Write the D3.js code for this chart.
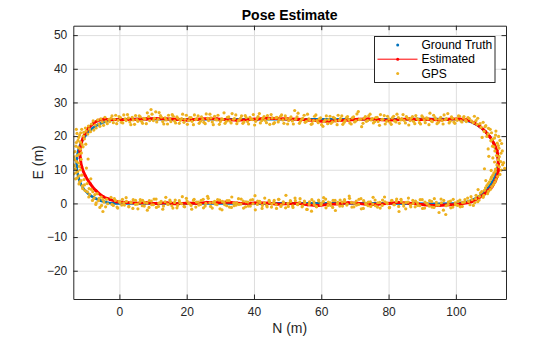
<!DOCTYPE html>
<html><head><meta charset="utf-8">
<script src="https://cdn.jsdelivr.net/npm/d3@7"></script>
<style>
body{margin:0;background:#fff;}
svg{display:block;font-family:"Liberation Sans",Arial,Helvetica,sans-serif;}
</style></head>
<body>
<svg id="chart" width="560" height="337"></svg>
<script>
// ---- data (N = x, E = y, metres) ----
const xTicks = [0, 20, 40, 60, 80, 100];
const yTicks = [-20, -10, 0, 10, 20, 30, 40, 50];
const legendLabels = ["Ground Truth", "Estimated", "GPS"];

// ground-truth track waypoints
const gtN = [0, 20, 40, 60, 80, 100, 103.2, 106.3, 108.8, 110.8, 112.1, 112.6, 112.1, 110.8, 108.8, 106.3, 103.2, 100,
             80, 60, 40, 20, 0, -3.3, -6.4, -9.0, -11.0, -12.2, -12.7, -12.5, -11.3, -9.4, -7.4, -3.7, 0];
const gtE = [0, 0, 0, 0, 0, 0, 0.4, 1.7, 3.7, 6.3, 9.3, 12.5, 15.7, 18.8, 21.3, 23.3, 24.6, 25,
             25, 25, 25, 25, 25, 24.6, 23.4, 21.4, 18.8, 15.8, 12.5, 9.2, 5.4, 3.0, 1.6, 0.3, 0];

// estimated trajectory
const estN = [-0.8, 2, 5, 8, 11, 14, 17, 20, 23, 26, 29, 32, 35, 38, 41, 44, 47, 50, 53, 56, 59, 62, 65, 68, 71, 74, 77, 80, 83, 86, 89, 92, 95, 98, 101.2,
              104.7, 106.5, 108.2, 109.6, 110.7, 111.6, 112.2, 112.6, 112.6, 112.5, 112.2, 111.3, 110.1, 108.8, 107.2, 105.3, 103.2, 101,
              98, 95, 92, 89, 86, 83, 80, 77, 74, 71, 68, 65, 62, 59, 56, 53, 50, 47, 44, 41, 38, 35, 32, 29, 26, 23, 20, 17, 14, 11, 8, 5, 2, -1, -2.8,
              -4.8, -6.4, -7.7, -9.2, -10.7, -11.3, -11.7, -11.6, -11.2, -10.2, -8.7, -7.0, -4.8, -2.8, -0.8];
const estE = [0.5, 0.3, 0.1, 0.2, 0.0, 0.2, -0.1, 0.1, 0.0, 0.3, 0.2, 0.4, 0.1, 0.0, 0.2, 0.1, -0.2, -0.1, 0.0, -0.4, -0.6, -0.3, -0.1, 0.2, 0.0, -0.3, -0.2, 0.0, 0.3, 0.1, -0.2, -0.5, -0.6, -0.4, -0.2,
              0.5, 1.5, 2.5, 3.9, 4.9, 6.5, 7.9, 9.8, 11.9, 13.8, 15.8, 17.8, 19.8, 21.3, 22.8, 24.0, 24.8, 25.1,
              25.0, 24.8, 25.0, 24.9, 25.1, 24.9, 24.7, 24.9, 25.1, 25.0, 24.8, 24.6, 24.4, 24.5, 24.8, 25.0, 25.1, 25.2, 25.3, 25.1, 24.9, 24.7, 24.9, 25.1, 25.2, 25.0, 24.8, 25.0, 25.1, 25.2, 25.1, 25.0, 24.9, 24.9, 24.9,
              25.0, 24.6, 23.8, 22.3, 19.8, 17.8, 15.8, 13.4, 10.9, 8.3, 5.9, 3.8, 2.0, 1.2, 0.5];

// GPS fixes [N, E]
const gpsBottom = [[-2.5,1.8],[-1.8,-0.6],[-1.2,0.9],[-0.5,-1.4],[0.2,0.3],[0.9,1.2],[1.5,-0.5],[2.1,0.6],[2.8,-1.0],[3.5,0.2],[4.1,1.1],[4.8,-0.3],[5.5,-1.6],[6.1,0.4],[6.9,0.9],[7.4,-0.8],[8.2,0.1],[8.8,-1.2],[9.5,0.7],[10.1,-0.4],[10.9,1.3],[11.6,-0.9],[12.2,0.2],[12.9,-1.7],[13.6,0.5],[14.3,-0.2],[15.0,1.0],[15.6,-0.7],[16.4,0.3],[17.1,-1.3],[17.8,0.8],[18.5,-0.1],[19.2,-0.9],[19.9,1.5],[20.6,0.0],[21.3,-0.6],[22.0,0.9],[22.7,-1.1],[23.4,0.4],[24.1,-0.3],[24.9,1.2],[25.5,-0.8],[26.2,2.1],[26.9,0.2],[27.6,-1.4],[28.3,0.6],[29.0,-0.4],[29.8,1.0],[30.5,-1.9],[31.1,0.3],[31.9,-0.7],[32.6,0.8],[33.3,-1.2],[34.0,0.1],[34.7,-0.5],[35.4,1.4],[36.1,-0.2],[36.8,0.7],[37.5,-1.0],[38.2,0.4],[38.9,-0.8],[39.6,1.1],[40.3,2.3],[41.0,-0.3],[41.7,0.6],[42.4,-1.5],[43.1,0.2],[43.8,-0.6],[44.5,0.9],[45.2,-1.1],[45.9,0.3],[46.6,-0.4],[47.3,1.2],[48.0,-0.9],[48.7,0.5],[49.4,-1.3],[50.1,0.0],[50.8,0.8],[51.5,-0.7],[52.2,1.6],[52.9,-0.2],[53.6,0.4],[54.3,-1.0],[55.0,0.7],[55.7,-1.8],[56.4,-0.3],[57.1,-2.3],[57.8,0.5],[58.5,-0.9],[59.2,1.0],[59.9,-0.4],[60.6,0.6],[61.3,1.3],[62.0,-0.6],[62.7,0.2],[63.4,-1.2],[64.1,0.9],[64.8,-0.1],[65.5,-0.8],[66.2,0.4],[66.9,1.1],[67.6,-0.5],[68.3,2.2],[69.0,0.3],[69.7,-1.0],[70.4,0.7],[71.1,-0.3],[71.8,1.4],[72.5,-1.5],[73.2,0.1],[73.9,-0.7],[74.6,0.5],[75.3,-0.2],[76.0,1.0],[76.7,-1.1],[77.4,0.3],[78.1,-0.6],[78.8,1.9],[79.5,0.2],[80.2,-1.3],[80.9,0.8],[81.6,-0.4],[82.3,0.6],[83.0,-0.9],[83.7,1.2],[84.4,-0.1],[85.1,-1.6],[85.8,0.4],[86.5,-0.5],[87.2,0.9],[87.9,-1.0],[88.6,0.2],[89.3,-0.7],[90.0,1.1],[90.7,-1.4],[91.4,0.0],[92.1,-0.8],[92.8,0.6],[93.5,-1.2],[94.2,0.3],[94.9,-0.5],[95.6,1.3],[96.3,-2.0],[97.0,-3.3],[97.7,-0.3],[98.4,0.7],[99.1,-1.1],[99.8,0.2],[100.5,-0.6],[101.2,1.0],[101.9,-0.9],[102.6,0.4]];
const gpsBottom2 = [[-2.2,-0.3],[-1.5,1.4],[-0.7,-1.1],[-0.1,0.6],[0.7,-0.5],[1.3,0.2],[2.0,1.7],[2.8,-0.9],[3.4,0.4],[4.0,-1.5],[4.8,0.9],[5.4,-0.2],[6.2,1.1],[6.8,-0.7],[7.5,0.3],[8.3,-2.0],[8.9,0.8],[9.6,-0.4],[10.3,1.3],[11.0,-1.2],[11.7,0.1],[12.4,0.6],[13.1,-0.8],[13.8,1.8],[14.5,-0.3],[15.2,0.5],[15.9,-1.4],[16.6,1.0],[17.3,-0.6],[18.0,0.2],[18.7,2.0],[19.4,-1.0],[20.1,0.7],[20.8,-0.1],[21.5,-1.7],[22.2,1.2],[22.9,0.4],[23.6,-0.5],[24.3,0.9],[25.0,-1.3],[25.7,0.0],[26.4,1.5],[27.1,-0.9],[27.8,0.3],[28.5,-0.2],[29.2,1.1],[29.9,-1.6],[30.6,0.6],[31.3,-0.4],[32.0,0.8],[32.7,-1.1],[33.4,1.9],[34.1,-0.7],[34.8,0.2],[35.5,-0.3],[36.2,1.3],[36.9,-1.4],[37.6,0.5],[38.3,-0.8],[39.0,1.0],[39.7,-0.1],[40.4,-1.9],[41.1,0.7],[41.8,0.3],[42.5,-0.6],[43.2,1.6],[43.9,-1.0],[44.6,0.4],[45.3,-0.2],[46.0,0.9],[46.7,-1.5],[47.4,1.2],[48.1,-0.5],[48.8,0.1],[49.5,2.4],[50.2,-0.9],[50.9,0.6],[51.6,-1.2],[52.3,0.8],[53.0,-0.4],[53.7,1.4],[54.4,-0.7],[55.1,0.2],[55.8,-1.8],[56.5,0.5],[57.2,1.1],[57.9,-0.3],[58.6,-1.0],[59.3,0.7],[60.0,0.0],[60.7,1.7],[61.4,-1.3],[62.1,0.4],[62.8,-0.6],[63.5,0.9],[64.2,-2.1],[64.9,0.3],[65.6,1.0],[66.3,-0.8],[67.0,0.6],[67.7,-0.2],[68.4,1.5],[69.1,-1.1],[69.8,0.1],[70.5,-0.5],[71.2,1.2],[71.9,-1.6],[72.6,0.8],[73.3,-0.3],[74.0,0.4],[74.7,-0.9],[75.4,1.8],[76.1,-0.7],[76.8,0.2],[77.5,-1.4],[78.2,1.0],[78.9,0.5],[79.6,-0.1],[80.3,-1.2],[81.0,0.9],[81.7,-0.4],[82.4,1.3],[83.1,-2.4],[83.8,0.6],[84.5,-0.8],[85.2,0.3],[85.9,1.6],[86.6,-1.0],[87.3,0.0],[88.0,0.7],[88.7,-0.6],[89.4,1.1],[90.1,-1.5],[90.8,0.4],[91.5,-0.2],[92.2,0.8],[92.9,-1.1],[93.6,1.4],[94.3,-0.5],[95.0,-2.7],[95.7,0.2],[96.4,0.9],[97.1,-0.7],[97.8,0.5],[98.5,-1.3],[99.2,1.2],[99.9,-0.4],[100.6,0.6],[101.3,-1.0],[102.0,0.3],[102.7,1.1]];
const gpsRight = [[103.5,1.6],[104.2,-0.4],[104.8,1.1],[105.6,0.2],[106.0,2.4],[106.9,1.0],[107.3,3.1],[108.1,1.8],[108.5,3.9],[109.4,2.9],[109.2,5.3],[110.3,4.2],[110.0,6.4],[111.2,5.6],[110.6,7.8],[112.0,7.1],[111.3,9.0],[113.1,8.6],[111.8,10.2],[112.9,10.9],[113.9,11.5],[111.5,12.3],[112.6,13.0],[114.2,12.1],[112.1,14.2],[113.4,14.9],[111.6,15.6],[112.8,16.4],[110.9,17.0],[112.3,17.9],[113.6,17.8],[110.4,18.6],[111.5,19.4],[109.2,19.9],[110.6,21.0],[108.4,21.4],[109.7,22.3],[107.5,22.6],[106.3,23.5],[108.1,24.1],[105.2,24.0],[104.0,25.2],[106.5,25.3],[103.1,24.3],[102.4,25.8],[107.8,19.6],[109.8,14.0],[110.5,9.8],[108.9,6.8],[106.6,4.1],[114.5,10.4]];
const gpsRight2 = [[103.8,0.6],[104.5,2.0],[105.2,-0.6],[105.9,1.4],[106.5,0.5],[107.0,2.1],[107.7,3.5],[108.3,2.4],[108.8,4.6],[109.7,3.6],[109.6,5.9],[110.7,5.0],[110.4,7.2],[111.6,6.3],[111.0,8.4],[112.4,8.0],[111.7,9.5],[113.5,9.9],[112.2,11.4],[113.3,12.4],[111.0,13.5],[112.9,13.9],[113.8,15.6],[111.3,16.8],[112.6,17.2],[113.1,18.7],[110.8,19.0],[111.8,20.3],[109.6,20.7],[110.2,22.0],[108.7,22.8],[107.2,23.7],[108.9,23.1],[106.0,24.6],[105.5,25.9],[104.6,24.5],[103.6,25.5],[102.9,24.7],[111.9,21.5],[112.7,19.9],[109.6,16.2],[108.5,10.3]];
const gpsTop = [[101.8,24.2],[101.1,25.9],[100.4,24.7],[99.7,23.8],[99.0,25.3],[98.3,24.4],[97.6,26.7],[96.9,24.9],[96.2,23.6],[95.5,25.6],[94.8,24.1],[94.1,25.0],[93.4,26.2],[92.7,24.5],[92.0,23.4],[91.3,25.4],[90.6,24.8],[89.9,26.0],[89.2,24.0],[88.5,25.2],[87.8,23.7],[87.1,25.8],[86.4,24.6],[85.7,25.3],[85.0,23.9],[84.3,26.4],[83.6,24.8],[82.9,25.5],[82.2,24.2],[81.5,25.9],[80.8,23.5],[80.1,25.1],[79.4,24.4],[78.7,26.1],[78.0,24.9],[77.3,23.2],[76.6,25.6],[75.9,24.3],[75.2,25.2],[74.5,26.5],[73.8,24.6],[73.1,25.8],[72.4,23.8],[71.7,25.0],[71.0,27.3],[70.3,24.5],[69.6,25.7],[68.9,23.6],[68.2,24.9],[67.5,25.5],[66.8,24.1],[66.1,26.0],[65.4,24.7],[64.7,23.4],[64.0,25.3],[63.3,24.2],[62.6,25.9],[61.9,23.7],[61.2,24.8],[60.5,22.9],[59.8,25.4],[59.1,24.0],[58.4,26.3],[57.7,24.6],[57.0,23.5],[56.3,25.1],[55.6,24.4],[54.9,26.2],[54.2,25.0],[53.5,23.8],[52.8,25.7],[52.1,27.6],[51.4,24.5],[50.7,25.3],[50.0,23.6],[49.3,26.0],[48.6,24.8],[47.9,25.9],[47.2,24.2],[46.5,25.4],[45.8,23.7],[45.1,26.4],[44.4,25.1],[43.7,24.0],[43.0,25.8],[42.3,24.6],[41.6,26.7],[40.9,25.2],[40.2,23.3],[39.5,24.9],[38.8,25.6],[38.1,24.3],[37.4,26.1],[36.7,23.8],[36.0,25.3],[35.3,24.5],[34.6,26.3],[33.9,25.0],[33.2,23.9],[32.5,25.7],[31.8,24.4],[31.1,26.9],[30.4,25.1],[29.7,23.5],[29.0,24.8],[28.3,25.9],[27.6,24.2],[26.9,26.5],[26.2,25.3],[25.5,23.7],[24.8,25.0],[24.1,24.4],[23.4,26.0],[22.7,24.9],[22.0,23.4],[21.3,25.5],[20.6,24.6],[19.9,26.2],[19.2,24.1],[18.5,25.2],[17.8,23.8],[17.1,25.7],[16.4,24.5],[15.7,26.4],[15.0,25.1],[14.3,23.6],[13.6,25.4],[12.9,24.3],[12.2,26.1],[11.5,25.0],[10.8,27.2],[10.1,24.6],[9.4,27.9],[8.7,25.8],[8.0,23.7],[7.3,25.3],[6.6,24.4],[5.9,26.0],[5.2,24.9],[4.5,23.5],[3.8,25.6],[3.1,24.2],[2.4,26.4],[1.7,25.1],[1.0,23.9],[0.3,25.5],[-0.4,24.7],[-1.1,26.2],[-1.8,24.0],[-2.5,25.3]];
const gpsTop2 = [[102.3,25.4],[101.5,24.5],[100.8,26.0],[100.1,25.1],[99.4,24.2],[98.7,25.7],[98.0,23.9],[97.2,25.2],[96.5,26.3],[95.9,24.6],[95.1,25.0],[94.4,23.7],[93.8,25.5],[93.0,24.3],[92.3,26.8],[91.7,25.1],[90.9,24.0],[90.2,25.6],[89.5,23.6],[88.8,24.9],[88.1,26.1],[87.4,24.4],[86.7,25.3],[86.0,23.3],[85.3,25.8],[84.6,24.7],[83.9,25.2],[83.2,23.8],[82.5,26.5],[81.8,24.5],[81.1,25.4],[80.4,24.1],[79.7,25.9],[79.0,23.6],[78.3,25.0],[77.6,26.4],[76.9,24.3],[76.2,25.5],[75.5,23.9],[74.8,24.8],[74.1,26.0],[73.4,24.4],[72.7,25.3],[72.0,22.8],[71.3,24.9],[70.6,26.6],[69.9,24.2],[69.2,25.4],[68.5,23.9],[67.8,25.8],[67.1,24.6],[66.4,23.5],[65.7,25.2],[65.0,26.2],[64.3,24.5],[63.6,25.6],[62.9,23.8],[62.2,24.9],[61.5,26.0],[60.8,24.3],[60.1,23.4],[59.4,25.1],[58.7,24.6],[58.0,25.9],[57.3,23.7],[56.6,24.8],[55.9,26.5],[55.2,24.1],[54.5,25.3],[53.8,24.4],[53.1,26.8],[52.4,25.0],[51.7,23.6],[51.0,25.7],[50.3,24.6],[49.6,25.2],[48.9,23.8],[48.2,26.3],[47.5,24.9],[46.8,25.6],[46.1,24.0],[45.4,25.4],[44.7,23.5],[44.0,26.1],[43.3,24.7],[42.6,25.3],[41.9,23.9],[41.2,25.8],[40.5,24.4],[39.8,26.4],[39.1,25.0],[38.4,23.6],[37.7,25.5],[37.0,24.2],[36.3,26.0],[35.6,24.8],[34.9,23.7],[34.2,25.2],[33.5,26.7],[32.8,24.5],[32.1,25.6],[31.4,23.8],[30.7,25.0],[30.0,24.3],[29.3,26.2],[28.6,24.9],[27.9,23.4],[27.2,25.4],[26.5,24.6],[25.8,26.6],[25.1,24.1],[24.4,25.7],[23.7,23.8],[23.0,25.1],[22.3,26.3],[21.6,24.4],[20.9,25.5],[20.2,23.5],[19.5,25.0],[18.8,26.5],[18.1,24.7],[17.4,25.3],[16.7,23.9],[16.0,25.9],[15.3,24.3],[14.6,26.2],[13.9,24.8],[13.2,23.6],[12.5,25.6],[11.8,27.0],[11.1,24.2],[10.4,25.3],[9.7,26.5],[9.0,24.6],[8.3,26.9],[7.6,25.1],[6.9,23.8],[6.2,25.7],[5.5,24.4],[4.8,26.1],[4.1,24.8],[3.4,23.4],[2.7,25.4],[2.0,24.6],[1.3,26.3],[0.6,24.1],[-0.1,25.8],[-0.8,23.7],[-1.5,25.0],[-2.2,26.0],[-2.9,24.3]];
const gpsLeft = [[-3.6,23.7],[-4.3,25.6],[-5.1,24.2],[-5.8,22.9],[-6.4,24.8],[-7.2,23.3],[-7.6,21.8],[-8.3,23.6],[-8.9,22.1],[-9.4,20.6],[-10.1,22.4],[-10.6,21.1],[-11.2,22.0],[-11.8,20.3],[-10.4,19.2],[-12.3,18.7],[-11.1,17.5],[-12.9,17.0],[-11.6,16.1],[-13.2,15.4],[-12.0,14.6],[-13.5,13.8],[-11.4,13.1],[-12.7,12.4],[-13.8,11.6],[-11.9,11.0],[-13.1,10.3],[-12.4,9.5],[-13.6,8.8],[-11.2,8.4],[-12.5,7.6],[-10.5,7.1],[-11.8,6.4],[-9.6,5.9],[-11.0,5.2],[-9.0,4.4],[-10.2,3.8],[-7.9,3.5],[-8.8,2.7],[-6.6,2.9],[-7.5,1.6],[-5.4,1.9],[-6.2,0.8],[-4.6,0.4],[-5.3,-0.6],[-3.8,1.2],[-4.1,-1.0],[-9.8,10.5],[-9.3,13.2],[-8.5,7.3],[-10.8,16.8],[-12.6,20.8],[-13.9,14.9],[-7.0,-0.3],[-4.9,-2.4]];
const gpsLeft2 = [[-3.1,25.0],[-4.0,24.3],[-4.7,23.2],[-5.5,25.1],[-6.1,23.6],[-6.9,22.4],[-7.8,24.5],[-8.6,21.3],[-9.2,23.0],[-9.9,21.5],[-10.7,20.0],[-11.5,21.0],[-12.1,19.6],[-11.6,18.2],[-12.8,18.1],[-12.2,16.6],[-11.3,15.0],[-12.6,14.2],[-13.3,13.0],[-12.1,12.0],[-13.4,11.2],[-11.6,10.0],[-12.9,9.1],[-12.0,8.2],[-13.0,7.3],[-11.4,6.8],[-12.0,5.8],[-10.4,5.5],[-10.9,4.4],[-9.5,3.4],[-8.4,4.2],[-9.1,1.9],[-7.3,2.6],[-8.0,0.9],[-6.0,1.5],[-6.9,0.2],[-4.9,1.1],[-5.8,-1.2],[-3.5,-0.1],[-12.8,22.0],[-14.0,10.7],[-10.0,17.6]];

// ---- layout ----
const C = {gt:"#0072BD", est:"#FF0000", gps:"#EDB120", axis:"#262626", grid:"#dedede"};
const L = 73.3, R = 506, T = 25.7, B = 299;
const svg = d3.select("#chart");

const x = d3.scaleLinear().domain([-13.7, 114.9]).range([L, R]);
const y = d3.scaleLinear().domain([-28.4, 52.8]).range([B, T]);

svg.append("rect").attr("x",L).attr("y",T).attr("width",R-L).attr("height",B-T).attr("fill","#fff");

// grid
const gx = svg.append("g").attr("transform",`translate(0,${B})`)
  .call(d3.axisBottom(x).tickValues(xTicks).tickSize(-(B-T)).tickFormat(""));
const gy = svg.append("g").attr("transform",`translate(${L},0)`)
  .call(d3.axisLeft(y).tickValues(yTicks).tickSize(-(R-L)).tickFormat(""));
[gx,gy].forEach(g=>{ g.select(".domain").remove(); g.selectAll("line").attr("stroke",C.grid).attr("stroke-width",1); });

svg.append("clipPath").attr("id","clip").append("rect")
  .attr("x",L).attr("y",T).attr("width",R-L).attr("height",B-T);
const plot = svg.append("g").attr("clip-path","url(#clip)");

const lineGen = d3.line().x(d=>x(d[0])).y(d=>y(d[1])).curve(d3.curveCatmullRom.alpha(0.5));

// ground truth
const gt = gtN.map((n,i)=>[n, gtE[i]]);
plot.append("path").datum(gt).attr("d", lineGen)
  .attr("fill","none").attr("stroke",C.gt).attr("stroke-width",2.6);

// estimated
const est = estN.map((n,i)=>[n, estE[i]]);
plot.append("path").datum(est).attr("d", lineGen)
  .attr("fill","none").attr("stroke",C.est).attr("stroke-width",2.9);
plot.append("g").selectAll("circle").data(est).join("circle")
  .attr("cx",d=>x(d[0])).attr("cy",d=>y(d[1])).attr("r",1.6).attr("fill",C.est);

// GPS
const gps = [].concat(gpsBottom, gpsBottom2, gpsRight, gpsRight2, gpsTop, gpsTop2, gpsLeft, gpsLeft2);
plot.append("g").selectAll("circle").data(gps).join("circle")
  .attr("cx",d=>x(d[0])).attr("cy",d=>y(d[1])).attr("r",1.6).attr("fill",C.gps);

// axes (box with inward ticks on all sides)
function styleAxis(g){
  g.select(".domain").attr("stroke",C.axis).attr("stroke-width",1);
  g.selectAll(".tick line").attr("stroke",C.axis);
  g.selectAll(".tick text").attr("fill",C.axis).attr("font-size",12)
    .attr("font-family",'"Liberation Sans",Arial,sans-serif');
}
svg.append("g").attr("transform",`translate(0,${B})`)
  .call(d3.axisBottom(x).tickValues(xTicks).tickSizeInner(-4.5).tickSizeOuter(0).tickPadding(8.5))
  .call(styleAxis);
svg.append("g").attr("transform",`translate(0,${T})`)
  .call(d3.axisTop(x).tickValues(xTicks).tickSizeInner(-4.5).tickSizeOuter(0).tickFormat(""))
  .call(styleAxis);
svg.append("g").attr("transform",`translate(${L},0)`)
  .call(d3.axisLeft(y).tickValues(yTicks).tickSizeInner(-4.5).tickSizeOuter(0).tickPadding(6))
  .call(styleAxis);
svg.append("g").attr("transform",`translate(${R},0)`)
  .call(d3.axisRight(y).tickValues(yTicks).tickSizeInner(-4.5).tickSizeOuter(0).tickFormat(""))
  .call(styleAxis);

// titles
svg.append("text").attr("x",(L+R)/2).attr("y",20).attr("text-anchor","middle")
  .attr("font-size",14).attr("font-weight","bold").attr("fill","#000").text("Pose Estimate");
svg.append("text").attr("x",(L+R)/2).attr("y",333).attr("text-anchor","middle")
  .attr("font-size",14).attr("fill",C.axis).text("N (m)");
svg.append("text").attr("transform",`translate(43,${(T+B)/2}) rotate(-90)`).attr("text-anchor","middle")
  .attr("font-size",14).attr("fill",C.axis).text("E (m)");

// legend
const lg = svg.append("g");
lg.append("rect").attr("x",374.5).attr("y",36.5).attr("width",120.5).attr("height",46)
  .attr("fill","#fff").attr("stroke",C.axis).attr("stroke-width",1);
const rows = [45, 59.2, 73.4];
lg.append("circle").attr("cx",397.7).attr("cy",rows[0]).attr("r",1.5).attr("fill",C.gt);
lg.append("line").attr("x1",377.5).attr("x2",417.5).attr("y1",rows[1]).attr("y2",rows[1]).attr("stroke",C.est).attr("stroke-width",1);
lg.append("circle").attr("cx",397.7).attr("cy",rows[1]).attr("r",1.5).attr("fill",C.est);
lg.append("circle").attr("cx",397.7).attr("cy",rows[2]).attr("r",1.5).attr("fill",C.gps);
legendLabels.forEach((t,i)=>{
  lg.append("text").attr("x",421.5).attr("y",rows[i]).attr("dy","0.35em")
    .attr("font-size",12).attr("fill","#000").text(t);
});
</script>
</body></html>
